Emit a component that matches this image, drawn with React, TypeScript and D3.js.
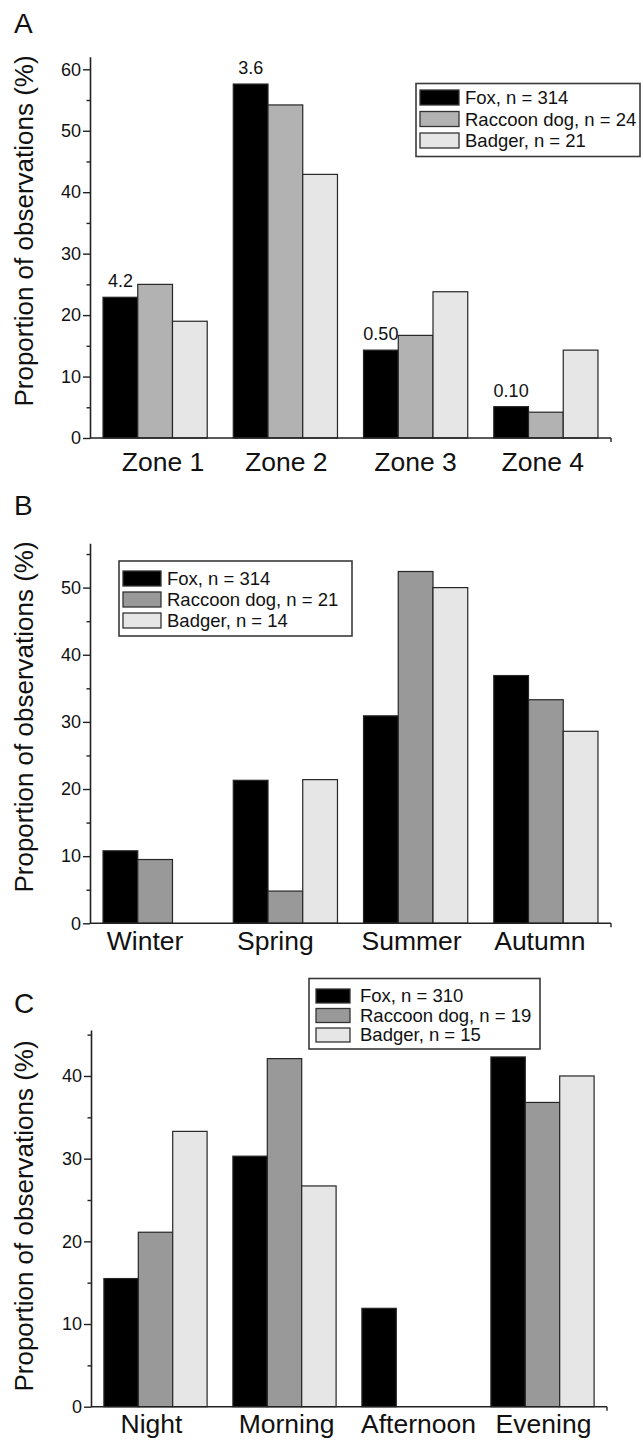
import * as d3 from "d3";
import { useEffect, useRef } from "react";

// panel A - zones
const zones = ["Zone 1", "Zone 2", "Zone 3", "Zone 4"];
const zoneFox = [22.9, 57.6, 14.3, 5.1];
const zoneRaccoon = [25.0, 54.2, 16.7, 4.2];
const zoneBadger = [19.0, 42.9, 23.8, 14.3];
const zoneFoxNotes = ["4.2", "3.6", "0.50", "0.10"];
const zoneLegend = ["Fox, n = 314", "Raccoon dog, n = 24", "Badger, n = 21"];

// panel B - seasons
const seasons = ["Winter", "Spring", "Summer", "Autumn"];
const seasonFox = [10.8, 21.3, 30.9, 36.9];
const seasonRaccoon = [9.5, 4.8, 52.4, 33.3];
const seasonBadger = [0, 21.4, 50.0, 28.6];
const seasonLegend = ["Fox, n = 314", "Raccoon dog, n = 21", "Badger, n = 14"];

// panel C - time of day
const times = ["Night", "Morning", "Afternoon", "Evening"];
const timeFox = [15.5, 30.3, 11.9, 42.3];
const timeRaccoon = [21.1, 42.1, 0, 36.8];
const timeBadger = [33.3, 26.7, 0, 40.0];
const timeLegend = ["Fox, n = 310", "Raccoon dog, n = 19", "Badger, n = 15"];

const FONT = "'Liberation Sans', Arial, Helvetica, sans-serif";

const panels = [
    {
        letter: "A", letterY: 33,
        cats: zones, series: [zoneFox, zoneRaccoon, zoneBadger], notes: zoneFoxNotes,
        colors: ["#000000", "#b2b2b2", "#e6e6e6"], legend: zoneLegend,
        x0: 90, x1: 611, y0: 438, yTop: 56.7, yMax: 62.05, major: 60,
        catY: 471, catDx: [8, 1, 0, -3], titleY: 231,
        lg: { x: 416, y: 83.5, w: 224, h: 73, sx: 420, sy: 90, sw: 39, sh: 15, step: 21.5, tx: 465 },
    },
    {
        letter: "B", letterY: 515,
        cats: seasons, series: [seasonFox, seasonRaccoon, seasonBadger], notes: null,
        colors: ["#000000", "#999999", "#e6e6e6"], legend: seasonLegend,
        x0: 90, x1: 611, y0: 923.3, yTop: 543.3, yMax: 56.6, major: 50,
        catY: 950, catDx: [-10, -10, -4, -6], titleY: 717,
        lg: { x: 119, y: 561, w: 233, h: 75, sx: 123, sy: 571, sw: 38, sh: 15, step: 21, tx: 167 },
    },
    {
        letter: "C", letterY: 1013,
        cats: times, series: [timeFox, timeRaccoon, timeBadger], notes: null,
        colors: ["#000000", "#999999", "#e6e6e6"], legend: timeLegend,
        x0: 91, x1: 607, y0: 1406.7, yTop: 1030, yMax: 45.56, major: 40,
        catY: 1433, catDx: [-4, 2, 5, 1], titleY: 1216,
        lg: { x: 309, y: 978.5, w: 231, h: 70.5, sx: 316, sy: 989, sw: 34, sh: 14, step: 19.5, tx: 360 },
    },
];

const drawPanel = (svg, p) => {
    const g = svg.append("g");

    const x = d3.scaleBand().domain(p.cats).range([p.x0, p.x1]).paddingInner(0.2).paddingOuter(0.1);
    const xs = d3.scaleBand().domain(d3.range(p.series.length)).range([0, x.bandwidth()]);
    const y = d3.scaleLinear().domain([0, p.yMax]).range([p.y0, p.yTop]);

    // bars
    p.series.forEach((vals, si) => {
        g.append("g")
            .selectAll("rect")
            .data(vals.map((v, i) => ({ v, c: p.cats[i] })).filter(d => d.v > 0))
            .enter()
            .append("rect")
            .attr("x", d => x(d.c) + xs(si))
            .attr("y", d => y(d.v))
            .attr("width", xs.bandwidth())
            .attr("height", d => y(0) - y(d.v))
            .attr("fill", p.colors[si])
            .attr("stroke", "#262626")
            .attr("stroke-width", 1.2);
    });

    // notes above fox bars
    if (p.notes) {
        g.append("g")
            .selectAll("text")
            .data(p.notes)
            .enter()
            .append("text")
            .attr("x", (d, i) => x(p.cats[i]) + xs(0) + xs.bandwidth() / 2)
            .attr("y", (d, i) => y(p.series[0][i]) - 10)
            .attr("text-anchor", "middle")
            .attr("font-family", FONT)
            .attr("font-size", 18)
            .attr("fill", "#111")
            .text(d => d);
    }

    // y axis
    const majors = d3.range(0, p.major + 1, 10);
    const minors = d3.range(5, p.yMax, 10);
    const yAxis = g.append("g")
        .attr("transform", `translate(${p.x0},0)`)
        .call(d3.axisLeft(y).tickValues(majors).tickSize(7).tickSizeOuter(0).tickPadding(2));
    yAxis.select(".domain").attr("stroke", "#222").attr("stroke-width", 1.6);
    yAxis.selectAll(".tick line").attr("stroke", "#222").attr("stroke-width", 1.4);
    yAxis.selectAll(".tick text")
        .attr("font-family", FONT)
        .attr("font-size", 18)
        .attr("fill", "#111");
    g.append("g")
        .attr("transform", `translate(${p.x0},0)`)
        .call(d3.axisLeft(y).tickValues(minors).tickSize(3.5).tickFormat(() => ""))
        .call(a => a.select(".domain").remove())
        .selectAll(".tick line").attr("stroke", "#222").attr("stroke-width", 1.4);

    // x axis
    g.append("line")
        .attr("x1", p.x0).attr("x2", p.x1)
        .attr("y1", p.y0).attr("y2", p.y0)
        .attr("stroke", "#222").attr("stroke-width", 1.6);
    g.append("line")
        .attr("x1", p.x1).attr("x2", p.x1)
        .attr("y1", p.y0).attr("y2", p.y0 + 4)
        .attr("stroke", "#222").attr("stroke-width", 1.4);

    g.append("g")
        .selectAll("text")
        .data(p.cats)
        .enter()
        .append("text")
        .attr("x", (d, i) => x(d) + x.bandwidth() / 2 + p.catDx[i])
        .attr("y", p.catY)
        .attr("text-anchor", "middle")
        .attr("font-family", FONT)
        .attr("font-size", 26.5)
        .attr("fill", "#111")
        .text(d => d);

    // y title
    g.append("text")
        .attr("transform", `translate(33,${p.titleY}) rotate(-90)`)
        .attr("text-anchor", "middle")
        .attr("font-family", FONT)
        .attr("font-size", 26)
        .attr("fill", "#111")
        .text("Proportion of observations (%)");

    // panel letter
    g.append("text")
        .attr("x", 14)
        .attr("y", p.letterY)
        .attr("font-family", FONT)
        .attr("font-size", 28)
        .attr("fill", "#111")
        .text(p.letter);

    // legend
    const lg = p.lg;
    g.append("rect")
        .attr("x", lg.x).attr("y", lg.y)
        .attr("width", lg.w).attr("height", lg.h)
        .attr("fill", "white")
        .attr("stroke", "#3a3a3a")
        .attr("stroke-width", 1.6);
    const row = g.append("g")
        .selectAll("g")
        .data(p.legend)
        .enter()
        .append("g")
        .attr("transform", (d, i) => `translate(0,${lg.sy + i * lg.step})`);
    row.append("rect")
        .attr("x", lg.sx).attr("y", 0)
        .attr("width", lg.sw).attr("height", lg.sh)
        .attr("fill", (d, i) => p.colors[i])
        .attr("stroke", "#333")
        .attr("stroke-width", 1.3);
    row.append("text")
        .attr("x", lg.tx)
        .attr("y", lg.sh - 1)
        .attr("font-family", FONT)
        .attr("font-size", 18.5)
        .attr("fill", "#111")
        .text(d => d);
};

export default function App() {
    const ref = useRef(null);

    useEffect(() => {
        const svg = d3.select(ref.current);
        svg.selectAll("*").remove();
        svg.append("rect").attr("width", 643).attr("height", 1442).attr("fill", "white");
        panels.forEach(p => drawPanel(svg, p));
    }, []);

    return (
        <svg
            ref={ref}
            width={643}
            height={1442}
            style={{ position: "absolute", left: 0, top: 0, display: "block" }}
        ></svg>
    );
}
